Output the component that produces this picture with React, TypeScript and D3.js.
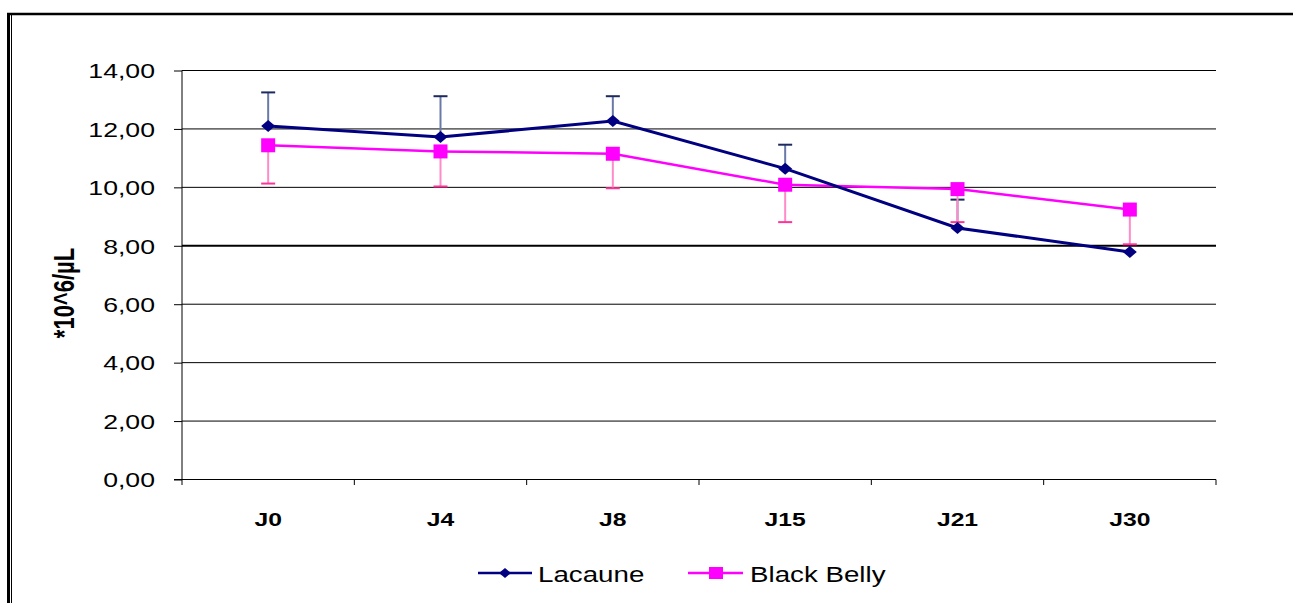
import React, { useEffect, useRef } from 'react';
import * as d3 from 'd3';

const categories = ['J0', 'J4', 'J8', 'J15', 'J21', 'J30'];
const lacaune = [12.1, 11.72, 12.27, 10.64, 8.61, 7.79];
const lacauneErr = [1.15, 1.4, 0.85, 0.82, 0.97, 0];
const blackBelly = [11.44, 11.23, 11.15, 10.09, 9.94, 9.24];
const blackBellyErr = [1.31, 1.2, 1.18, 1.28, 1.13, 1.19];
const yTicks = [0, 2, 4, 6, 8, 10, 12, 14];

const App = () => {
  const svgRef = useRef<SVGSVGElement>(null);

  useEffect(() => {
    const width = 1293;
    const height = 603;
    const font = '"Liberation Sans", Arial, sans-serif';

    d3.select(svgRef.current).selectAll('*').remove();

    const svg = d3
      .select(svgRef.current)
      .attr('width', width)
      .attr('height', height)
      .style('font-family', font);

    // Frame
    svg.append('line').attr('x1', 7).attr('x2', width).attr('y1', 14).attr('y2', 14)
      .attr('stroke', '#000').attr('stroke-width', 2.5);
    svg.append('line').attr('x1', 8.5).attr('x2', 8.5).attr('y1', 13).attr('y2', height)
      .attr('stroke', '#000').attr('stroke-width', 3);
    svg.append('line').attr('x1', 11.5).attr('x2', 11.5).attr('y1', 15).attr('y2', height)
      .attr('stroke', '#000').attr('stroke-width', 1);

    // Scales
    const x = d3.scaleBand().domain(categories).range([182, 1216]).padding(0);
    const y = d3.scaleLinear().domain([0, 14]).range([479.5, 70.5]);
    const cx = (c: string) => (x(c) as number) + x.bandwidth() / 2;

    // Gridlines
    svg
      .selectAll('.grid')
      .data(yTicks.filter((t) => t > 0))
      .enter()
      .append('line')
      .attr('x1', 182)
      .attr('x2', 1216)
      .attr('y1', (d) => y(d))
      .attr('y2', (d) => y(d))
      .attr('stroke', '#000')
      .attr('stroke-width', (d) => (d === 8 ? 2 : 1));

    // Y axis
    const yAxis = svg
      .append('g')
      .attr('transform', 'translate(182,0)')
      .call(
        d3
          .axisLeft(y)
          .tickValues(yTicks)
          .tickSize(8)
          .tickFormat((d) => d3.format('.2f')(d as number).replace('.', ','))
      );
    yAxis.select('.domain').remove();
    yAxis.selectAll('line').attr('stroke', '#000');
    yAxis
      .selectAll('text')
      .attr('x', null)
      .attr('dy', null)
      .attr('transform', 'translate(-27,0) scale(1.3,1)')
      .attr('dominant-baseline', 'central')
      .attr('font-size', 20.5)
      .attr('font-family', font)
      .attr('fill', '#000');
    svg.append('line').attr('x1', 182).attr('x2', 182).attr('y1', y(14)).attr('y2', 485)
      .attr('stroke', '#000');

    // X axis
    svg.append('line').attr('x1', 174).attr('x2', 1216).attr('y1', y(0)).attr('y2', y(0))
      .attr('stroke', '#000');
    svg
      .selectAll('.xtick')
      .data(categories.slice(1))
      .enter()
      .append('line')
      .attr('x1', (d) => x(d) as number)
      .attr('x2', (d) => x(d) as number)
      .attr('y1', y(0))
      .attr('y2', 485)
      .attr('stroke', '#000');
    svg.append('line').attr('x1', 1216).attr('x2', 1216).attr('y1', y(0)).attr('y2', 485)
      .attr('stroke', '#000');
    svg
      .selectAll('.xlabel')
      .data(categories)
      .enter()
      .append('text')
      .attr('transform', (d) => `translate(${cx(d)},526) scale(1.3,1)`)
      .attr('text-anchor', 'middle')
      .attr('font-size', 19)
      .attr('font-weight', 'bold')
      .text((d) => d);

    // Y axis label
    svg
      .append('text')
      .attr('transform', 'translate(74,293) scale(1.3,1) rotate(-90)')
      .attr('text-anchor', 'middle')
      .attr('font-size', 22)
      .attr('font-weight', 'bold')
      .text('*10^6/µL');

    // Error bars
    const errBars = (
      vals: number[],
      errs: number[],
      dir: number,
      stem: string,
      cap: string
    ) => {
      const g = svg.append('g');
      categories.forEach((c, i) => {
        if (!errs[i]) return;
        const y1 = y(vals[i]);
        const y2 = y(vals[i] + dir * errs[i]);
        g.append('line').attr('x1', cx(c)).attr('x2', cx(c)).attr('y1', y1).attr('y2', y2)
          .attr('stroke', stem).attr('stroke-width', 2);
        g.append('line').attr('x1', cx(c) - 7).attr('x2', cx(c) + 7).attr('y1', y2).attr('y2', y2)
          .attr('stroke', cap).attr('stroke-width', 2);
      });
    };
    errBars(lacaune, lacauneErr, 1, '#6a7aa8', '#1c2a60');
    errBars(blackBelly, blackBellyErr, -1, '#ff8cc8', '#ff3399');

    // Lines
    const line = d3
      .line<number>()
      .x((_, i) => cx(categories[i]))
      .y((d) => y(d));

    svg.append('path').datum(blackBelly).attr('d', line).attr('fill', 'none')
      .attr('stroke', '#ff00ff').attr('stroke-width', 2.5);
    svg.append('path').datum(lacaune).attr('d', line).attr('fill', 'none')
      .attr('stroke', '#000080').attr('stroke-width', 3);

    // Markers
    const diamond = 'M0,-6L7,0L0,6L-7,0Z';
    svg
      .selectAll('.lac')
      .data(lacaune)
      .enter()
      .append('path')
      .attr('d', diamond)
      .attr('transform', (d, i) => `translate(${cx(categories[i])},${y(d)})`)
      .attr('fill', '#000080');
    svg
      .selectAll('.bb')
      .data(blackBelly)
      .enter()
      .append('rect')
      .attr('x', (_, i) => cx(categories[i]) - 7)
      .attr('y', (d) => y(d) - 7)
      .attr('width', 14)
      .attr('height', 14)
      .attr('fill', '#ff00ff');

    // Legend
    const legend = svg.append('g');
    legend.append('line').attr('x1', 478).attr('x2', 532).attr('y1', 573).attr('y2', 573)
      .attr('stroke', '#000080').attr('stroke-width', 2.5);
    legend.append('path').attr('d', 'M0,-5L6,0L0,5L-6,0Z').attr('transform', 'translate(505,573)')
      .attr('fill', '#000080');
    legend.append('text').attr('transform', 'translate(538,582) scale(1.26,1)')
      .attr('font-size', 22).text('Lacaune');
    legend.append('line').attr('x1', 688).attr('x2', 743).attr('y1', 573).attr('y2', 573)
      .attr('stroke', '#ff00ff').attr('stroke-width', 2.5);
    legend.append('rect').attr('x', 709).attr('y', 567).attr('width', 14).attr('height', 12)
      .attr('fill', '#ff00ff');
    legend.append('text').attr('transform', 'translate(750,582) scale(1.26,1)')
      .attr('font-size', 22).text('Black Belly');
  }, []);

  return (
    <svg
      ref={svgRef}
      style={{ position: 'absolute', left: 0, top: 0, background: '#fff' }}
    ></svg>
  );
};

export default App;
